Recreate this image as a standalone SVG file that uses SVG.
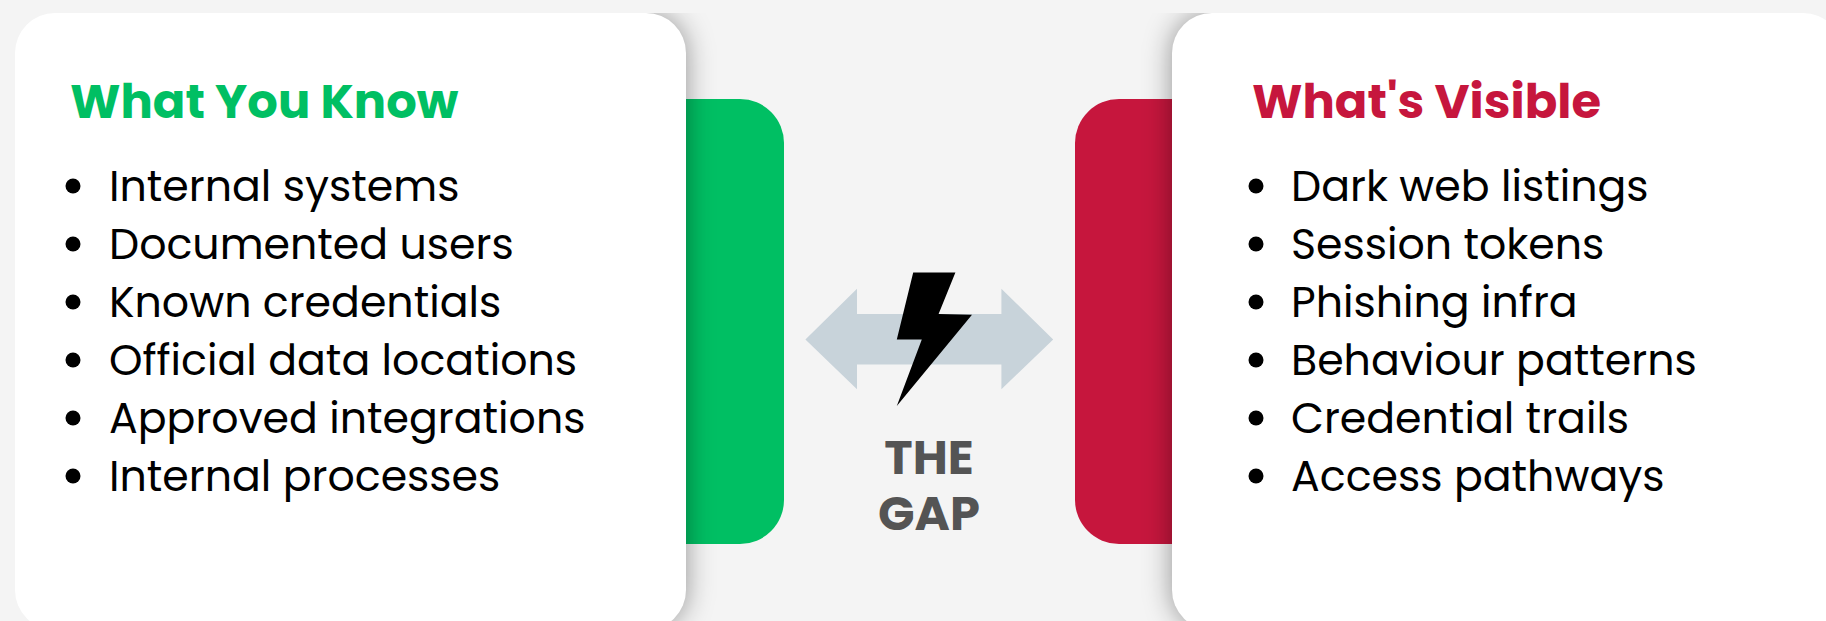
<svg xmlns="http://www.w3.org/2000/svg" width="1826" height="621" viewBox="0 0 1826 621">
<defs>
<filter id="blur" x="-10%" y="-10%" width="120%" height="120%"><feGaussianBlur stdDeviation="14"/></filter>
<clipPath id="clipL"><rect x="640" y="13" width="180" height="608"/></clipPath>
<clipPath id="clipR"><rect x="1040" y="13" width="180" height="608"/></clipPath>
</defs>
<style>
.card{fill:#fff}
.shadow{fill:#000;fill-opacity:.4;filter:url(#blur)}
.h{font-family:Poppins,"Open Sans","Liberation Sans",sans-serif;font-weight:700;font-size:48px}
.li{font-family:Poppins,"Open Sans","Liberation Sans",sans-serif;font-size:42.67px;fill:#000}
.gap{font-family:Poppins,"Open Sans","Liberation Sans",sans-serif;font-weight:700;font-size:48px;fill:#545454;text-anchor:middle}
</style>
<rect width="1826" height="621" fill="#f4f4f4"/>
<g id="green-tab"><path d="M640 99H740a44 44 0 0 1 44 44V500a44 44 0 0 1 -44 44H640Z" fill="#00bf63"/></g>
<g id="red-tab"><path d="M1220 99H1119a44 44 0 0 0 -44 44V500a44 44 0 0 0 44 44H1220Z" fill="#c6163d"/></g>
<g clip-path="url(#clipL)"><rect class="shadow" x="15" y="13" width="671" height="617" rx="40"/></g>
<g clip-path="url(#clipR)"><rect class="shadow" x="1172" y="13" width="671" height="617" rx="40"/></g>
<g id="left-card"><rect class="card" x="15" y="13" width="671" height="617" rx="40"/>
<text class="h" x="70" y="118" fill="#00bf63">What You Know</text>
<g class="li"><circle cx="73" cy="186" r="7.5"/><text x="109" y="201">Internal systems</text>
<circle cx="73" cy="244" r="7.5"/><text x="109" y="259">Documented users</text>
<circle cx="73" cy="302" r="7.5"/><text x="109" y="317">Known credentials</text>
<circle cx="73" cy="360" r="7.5"/><text x="109" y="375">Official data locations</text>
<circle cx="73" cy="418" r="7.5"/><text x="109" y="433">Approved integrations</text>
<circle cx="73" cy="476" r="7.5"/><text x="109" y="491">Internal processes</text></g></g>
<g id="right-card"><rect class="card" x="1172" y="13" width="671" height="617" rx="40"/>
<text class="h" x="1252" y="118" fill="#c6163d">What's Visible</text>
<g class="li"><circle cx="1256" cy="186" r="7.5"/><text x="1291" y="201">Dark web listings</text>
<circle cx="1256" cy="244" r="7.5"/><text x="1291" y="259">Session tokens</text>
<circle cx="1256" cy="302" r="7.5"/><text x="1291" y="317">Phishing infra</text>
<circle cx="1256" cy="360" r="7.5"/><text x="1291" y="375">Behaviour patterns</text>
<circle cx="1256" cy="418" r="7.5"/><text x="1291" y="433">Credential trails</text>
<circle cx="1256" cy="476" r="7.5"/><text x="1291" y="491">Access pathways</text></g></g>
<g id="gap"><polygon points="805.4,339.4 857,288.7 857,314 1001.4,314 1001.4,288.7 1053.2,339.4 1001.4,389.3 1001.4,364.4 857,364.4 857,389.3" fill="#c8d3da"/>
<polygon points="913.2,272.5 955.4,272.5 938.6,314 972,314.8 896.8,406 921.8,339.4 896.8,339.4" fill="#000"/>
<text class="gap" x="929" y="474">THE</text><text class="gap" x="929" y="530">GAP</text></g>
</svg>
